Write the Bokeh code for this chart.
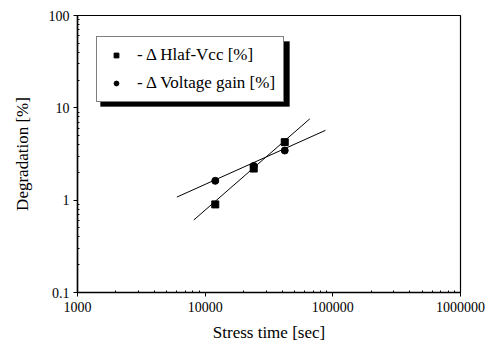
from bokeh.plotting import figure
from bokeh.models import Legend, LegendItem, FixedTicker, BoxAnnotation
from bokeh.embed import file_html
from bokeh.resources import INLINE

# Data
stress_time = [12000, 24000, 42000]
hlaf_vcc = [0.90, 2.2, 4.25]
voltage_gain = [1.62, 2.35, 3.45]

fit_hlaf_x = [8150, 66000]
fit_hlaf_y = [0.61, 7.6]
fit_gain_x = [6000, 87500]
fit_gain_y = [1.08, 5.7]

x_ticks = [1000, 10000, 100000, 1000000]
x_tick_labels = ["1000", "10000", "100000", "1000000"]
y_ticks = [0.1, 1, 10, 100]
y_tick_labels = ["0.1", "1", "10", "100"]

FONT = "Liberation Serif"

p = figure(width=495, height=349, x_axis_type="log", y_axis_type="log",
           x_range=(1000, 1000000), y_range=(0.1, 100),
           output_backend="svg", toolbar_location=None,
           min_border_left=77, min_border_right=35,
           min_border_top=15, min_border_bottom=57)
p.grid.visible = False
p.outline_line_color = "black"
p.outline_line_width = 1.2
p.background_fill_color = "white"
p.border_fill_color = "white"

x_minor = [m * 10 ** k for k in range(3, 6) for m in range(2, 10)]
y_minor = [m * 10.0 ** k for k in range(-1, 2) for m in range(2, 10)]
p.xaxis.ticker = FixedTicker(ticks=x_ticks, minor_ticks=x_minor)
p.yaxis.ticker = FixedTicker(ticks=y_ticks, minor_ticks=y_minor)
p.xaxis.major_label_overrides = {t: l for t, l in zip(x_ticks, x_tick_labels)}
p.yaxis.major_label_overrides = {t: l for t, l in zip(y_ticks, y_tick_labels)}

for ax in (p.xaxis, p.yaxis):
    ax.axis_line_width = 1.5
    ax.axis_line_color = "black"
    ax.major_tick_line_color = "black"
    ax.minor_tick_line_color = "black"
    ax.major_tick_out = 4
    ax.major_tick_in = 0
    ax.minor_tick_out = 0
    ax.minor_tick_in = 2
    ax.major_label_text_font = FONT
    ax.major_label_text_font_size = "14px"
    ax.major_label_text_color = "black"
    ax.axis_label_text_font = FONT
    ax.axis_label_text_font_size = "17px"
    ax.axis_label_text_font_style = "normal"
    ax.axis_label_text_color = "black"

p.xaxis.axis_label = "Stress time [sec]"
p.yaxis.axis_label = "Degradation [%]"
p.xaxis.major_label_standoff = 5
p.xaxis.axis_label_standoff = 8
p.yaxis.major_label_standoff = 4
p.yaxis.axis_label_standoff = 14

p.line(fit_hlaf_x, fit_hlaf_y, line_color="black", line_width=1)
p.line(fit_gain_x, fit_gain_y, line_color="black", line_width=1)
r1 = p.scatter(stress_time, hlaf_vcc, marker="square", size=7, color="black")
r2 = p.scatter(stress_time, voltage_gain, marker="circle", size=7, color="black")

# legend drop shadow (screen units: x from frame left, y from frame bottom)
shadow = BoxAnnotation(left=23, right=212, top=251, bottom=186,
                       left_units="screen", right_units="screen",
                       top_units="screen", bottom_units="screen",
                       fill_color="black", fill_alpha=1.0, line_color="black")
p.add_layout(shadow)

legend = Legend(items=[LegendItem(label="- Δ Hlaf-Vcc [%]", renderers=[r1]),
                       LegendItem(label="- Δ Voltage gain [%]", renderers=[r2])],
                location=(19, 190), orientation="vertical",
                padding=8, spacing=8, glyph_width=22, glyph_height=12,
                label_height=20, label_standoff=10, margin=0,
                label_text_font=FONT, label_text_font_size="17px",
                border_line_color="black", border_line_width=1,
                background_fill_color="white", background_fill_alpha=1.0,
                label_text_color="black")
p.add_layout(legend)

open("out.html", "w").write(file_html(p, INLINE))
